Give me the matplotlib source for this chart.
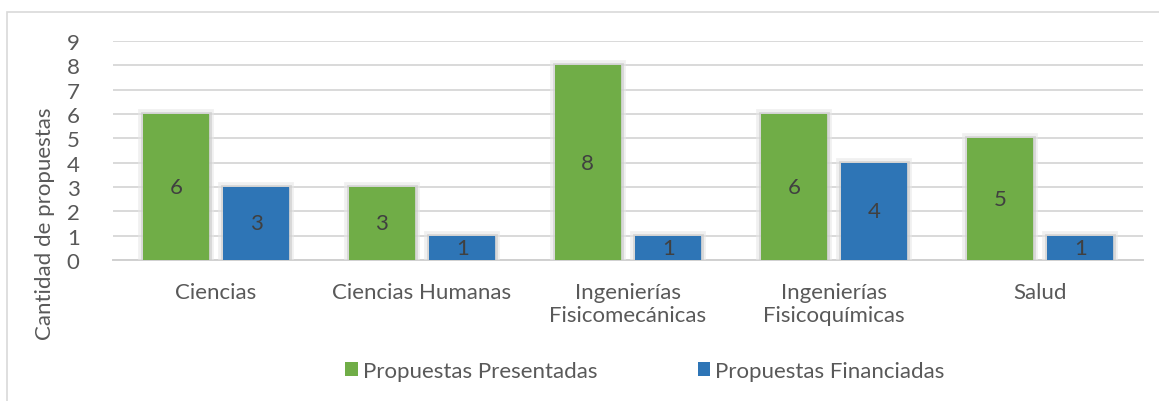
import matplotlib
matplotlib.use("Agg")
import matplotlib.pyplot as plt
import matplotlib.patheffects as pe
from matplotlib.patches import Rectangle
import numpy as np

categories = ["Ciencias", "Ciencias Humanas", "Ingenierías\nFisicomecánicas",
              "Ingenierías\nFisicoquímicas", "Salud"]
presentadas = [6, 3, 8, 6, 5]
financiadas = [3, 1, 1, 4, 1]
series_names = ["Propuestas Presentadas", "Propuestas Financiadas"]
yticks = list(range(0, 10))

plt.rcParams['font.family'] = ['Lato', 'DejaVu Sans']
TXT = '#595959'
GREEN = '#70ad47'
BLUE = '#2e75b6'
FS = 16

fig = plt.figure(figsize=(11.59, 4.02), dpi=100)
ax = fig.add_axes([113/1159, 1-261/402, (1143-113)/1159, (261-42)/402])

x = np.arange(len(categories))
w = 0.32
off = 0.195
glow = [pe.Stroke(linewidth=7, foreground='#e6e6e6', alpha=0.6),
        pe.Stroke(linewidth=3.5, foreground='#c8c8c8', alpha=0.6), pe.Normal()]
b1 = ax.bar(x - off, presentadas, w, color=GREEN, label=series_names[0], zorder=3)
b2 = ax.bar(x + off, financiadas, w, color=BLUE, label=series_names[1], zorder=3)
for b in list(b1) + list(b2):
    b.set_path_effects(glow)

for bars, vals in ((b1, presentadas), (b2, financiadas)):
    for b, v in zip(bars, vals):
        ax.text(b.get_x() + b.get_width()/2, v/2, str(v), ha='center', va='center',
                fontsize=FS, color='#404040', zorder=4)

ax.set_xlim(-0.5, len(categories) - 0.5)
ax.set_ylim(0, 9)
ax.set_yticks(yticks)
ax.set_xticks(x)
ax.set_xticklabels(categories, fontsize=FS, color=TXT, linespacing=1.2)
ax.tick_params(axis='x', length=0, pad=16)
ax.tick_params(axis='y', length=0, pad=24, labelsize=FS, labelcolor=TXT)
ax.yaxis.grid(True, color='#d9d9d9', linewidth=1.4, zorder=0)
ax.set_axisbelow(True)
for s in ['top', 'right', 'left']:
    ax.spines[s].set_visible(False)
ax.spines['bottom'].set_color('#d0d0d0')
ax.spines['bottom'].set_linewidth(1.4)

fig.text(45/1159, 1-224/402, "Cantidad de propuestas", rotation=90, ha='center',
         va='center', fontsize=FS, color=TXT)

leg = fig.legend(handles=[b1, b2], labels=series_names, loc='center',
                 bbox_to_anchor=(645/1159, 1-372/402), ncol=2, frameon=False,
                 fontsize=FS, labelcolor=TXT, handlelength=0.55, handleheight=0.55,
                 handletextpad=0.25, columnspacing=4.5)
for h in leg.legend_handles:
    h.set_path_effects([])

fig.patches.append(Rectangle((7/1159, -0.01), 1.1, 1-13/402 + 0.01, transform=fig.transFigure,
                             fill=False, edgecolor='#d9d9d9', linewidth=1.2))

fig.savefig("out.png", dpi=100)
